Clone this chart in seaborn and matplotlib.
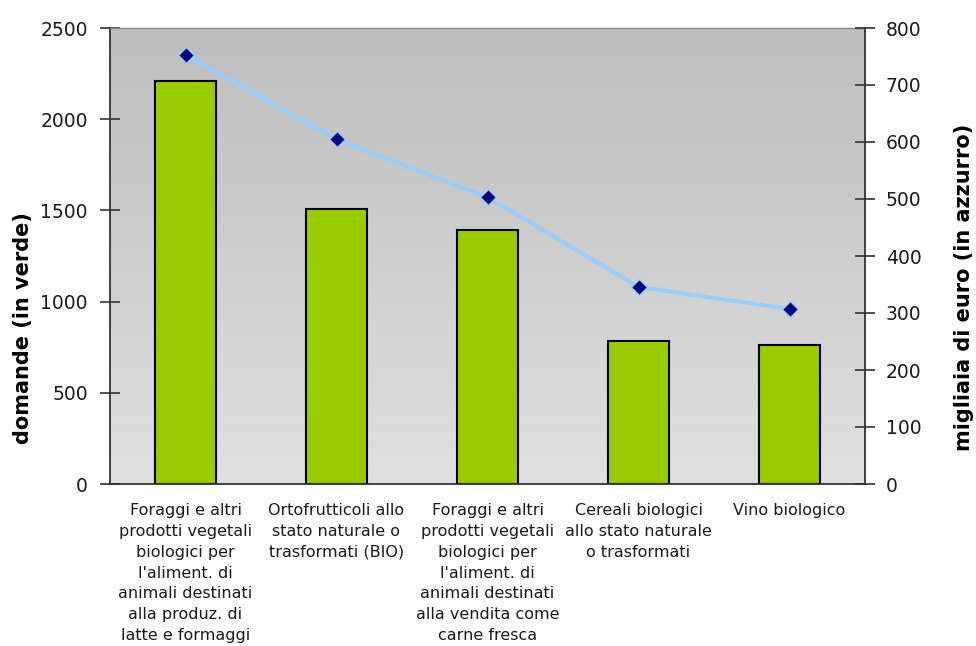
import numpy as np
import pandas as pd
import matplotlib
matplotlib.use("Agg")
import matplotlib.pyplot as plt
import seaborn as sns

categories = [
    "Foraggi e altri\nprodotti vegetali\nbiologici per\nl'aliment. di\nanimali destinati\nalla produz. di\nlatte e formaggi",
    "Ortofrutticoli allo\nstato naturale o\ntrasformati (BIO)",
    "Foraggi e altri\nprodotti vegetali\nbiologici per\nl'aliment. di\nanimali destinati\nalla vendita come\ncarne fresca",
    "Cereali biologici\nallo stato naturale\no trasformati",
    "Vino biologico",
]
domande = [2210, 1505, 1390, 785, 760]
migliaia_euro = [753, 605, 503, 346, 307]

left_ticks = [0, 500, 1000, 1500, 2000, 2500]
right_ticks = [0, 100, 200, 300, 400, 500, 600, 700, 800]

df = pd.DataFrame({"cat": categories, "domande": domande, "euro": migliaia_euro})

sns.set_style("white")
plt.rcParams["font.family"] = ["DejaVu Sans"]

fig = plt.figure(figsize=(9.76, 6.46), dpi=100)
ax = fig.add_axes([110 / 976, 1 - 484 / 646, 755 / 976, 456 / 646])

# vertical gradient background of the plot area: darker at the top
grad = np.linspace(0, 1, 256).reshape(-1, 1)
cmap = matplotlib.colors.LinearSegmentedColormap.from_list("bg", ["#bdbdbd", "#e0e0e0"])
ax.imshow(grad, cmap=cmap, aspect="auto", extent=[0, 1, 0, 1], origin="upper",
          transform=ax.transAxes, zorder=0)

sns.barplot(data=df, x="cat", y="domande", ax=ax, color="#99cc00",
            width=0.4, edgecolor="black", linewidth=1.5, saturation=1, zorder=2)
ax.set_xlim(-0.5, len(categories) - 0.5)
ax.set_ylim(0, 2500)
ax.set_yticks(left_ticks)
ax.set_yticklabels([str(t) for t in left_ticks])
ax.set_xlabel("")
ax.set_ylabel("domande (in verde)", fontsize=15, fontweight="bold", color="black")
ax.yaxis.set_label_coords(-0.102, 0.342)

ax.set_xticks(range(len(categories)))
ax.set_xticklabels(categories, fontsize=11.5, color="#1a1a1a", linespacing=1.48)
ax.set_xticks(np.arange(-0.5, len(categories), 1.0), minor=True)
ax.tick_params(axis="x", which="major", length=0, pad=14)
ax.tick_params(axis="x", which="minor", length=10, width=1.2, direction="inout", color="#333333")
ax.tick_params(axis="y", length=14, width=1.2, direction="inout", labelsize=13.5, pad=9,
               color="#333333", labelcolor="#1a1a1a")

for side in ["top", "right"]:
    ax.spines[side].set_visible(False)
ax.spines["left"].set_color("#333333")
ax.spines["bottom"].set_color("#333333")
ax.spines["left"].set_linewidth(1.3)
ax.spines["bottom"].set_linewidth(1.3)
ax.plot([0, 1], [1, 1], transform=ax.transAxes, color="#888888", lw=1.0, zorder=3, clip_on=False)

ax2 = ax.twinx()
sns.lineplot(x=list(range(len(categories))), y=migliaia_euro, ax=ax2, color="#99ccff",
             linewidth=3, marker="D", markersize=8, markerfacecolor="#000080",
             markeredgecolor="#99ccff", markeredgewidth=1, zorder=4)
ax2.set_ylim(0, 800)
ax2.set_yticks(right_ticks)
ax2.set_yticklabels([str(t) for t in right_ticks])
ax2.tick_params(axis="y", length=14, width=1.2, direction="inout", labelsize=13.5, pad=8,
                color="#333333", labelcolor="#1a1a1a")
ax2.set_ylabel("migliaia di euro (in azzurro)", fontsize=15, fontweight="bold", color="black")
ax2.yaxis.set_label_coords(1.118, 0.432)
for side in ["top", "left", "bottom"]:
    ax2.spines[side].set_visible(False)
ax2.spines["right"].set_color("#333333")
ax2.spines["right"].set_linewidth(1.3)

fig.savefig("out.png", dpi=100)
